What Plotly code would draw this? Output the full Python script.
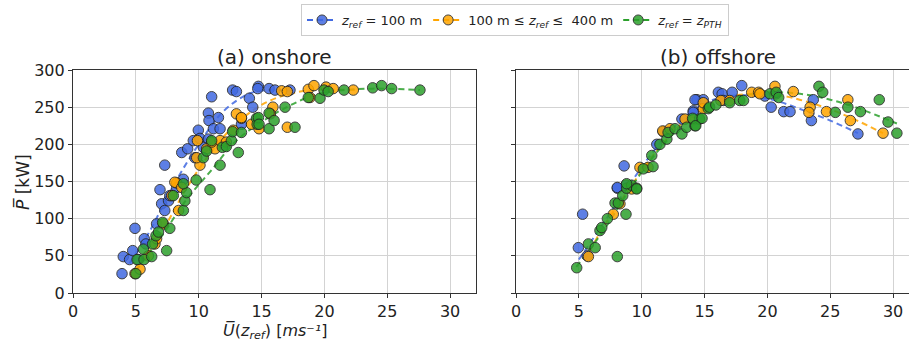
import plotly.graph_objects as go

# ---------------- data ----------------
# onshore (a)
on_blue_x = [3.9, 4.0, 4.5, 4.75, 4.93, 5.2, 5.67, 5.8, 6.65, 6.92, 7.05, 7.3, 7.6, 7.7, 8.25,
             7.3, 8.78, 8.65, 9.12, 9.57, 9.97, 10.1, 9.7, 10.77, 10.82, 11.03, 10.77, 11.17,
             11.7, 11.57, 10.37, 12.7, 13.0, 14.03, 14.3, 14.75, 14.7, 13.4, 15.6, 16.07, 17.26]
on_blue_y = [26, 49, 45, 57, 87, 45, 73, 66, 93, 139, 120, 111, 124, 131, 142,
             172, 153, 189, 194, 205, 219, 208, 182, 242, 232, 264, 207, 221,
             221, 236, 196, 273, 271, 262, 250, 278, 275, 227, 275, 273, 273]

on_orange_x = [4.93, 8.25, 7.85, 8.4, 7.18, 6.52, 6.65, 5.33, 5.99, 8.1, 8.65, 10.1, 9.84, 9.9,
               10.63, 11.3, 11.03, 11.7, 12.2, 12.75, 13.0, 13.4, 14.2, 13.4, 14.8, 15.9,
               15.7, 16.6, 17.05, 17.05, 18.72, 19.17, 20.13, 20.7, 22.3, 18.85]
on_orange_y = [26, 148, 131, 111, 93, 66, 73, 32, 50, 149, 142, 172, 182, 205,
               194, 194, 203, 205, 203, 219, 241, 235, 227, 236, 221, 250,
               241, 272, 271, 223, 274, 279, 277, 275, 273, 263]

on_green_x = [5.0, 5.1, 5.65, 5.6, 6.26, 6.33, 6.6, 6.8, 7.45, 7.7, 7.13, 7.98, 8.78, 8.9, 9.04,
              8.78, 9.8, 10.9, 10.37, 11.03, 10.63, 11.7, 11.88, 12.2, 12.6, 12.7, 13.15,
              13.4, 14.6, 14.65, 14.75, 14.8, 15.6, 15.6, 16.0, 16.87, 17.66, 18.72, 19.65,
              19.97, 20.3, 21.56, 23.84, 24.55, 25.35, 27.6]
on_green_y = [26, 45, 45, 59, 49, 66, 77, 82, 57, 87, 95, 131, 111, 124, 135,
              147, 152, 139, 182, 205, 191, 172, 196, 197, 205, 217, 189,
              216, 235, 227, 236, 227, 242, 221, 232, 250, 223, 263, 262,
              273, 271, 273, 276, 279, 275, 273]

on_blue_fit_x = [4.5, 6, 8, 10, 12, 14, 15.5, 17.5]
on_blue_fit_y = [40, 80, 145, 200, 245, 268, 273, 272]
on_orange_fit_x = [5, 7, 9, 11, 13, 15, 17, 19, 22.5]
on_orange_fit_y = [30, 80, 140, 190, 228, 253, 267, 273, 273]
on_green_fit_x = [5, 7, 9, 11, 13, 15, 17, 19, 21, 24, 27.6]
on_green_fit_y = [30, 75, 125, 165, 205, 230, 250, 265, 272, 275, 273]

# offshore (b)
off_blue_x = [5.3, 4.96, 5.67, 8.06, 8.75, 8.6, 8.06, 11.2, 11.72, 13.2, 14.1, 14.4, 14.9, 14.24,
              16.1, 16.4, 17.2, 17.96, 14.1, 20.3, 21.3, 21.8, 19.8, 23.5, 23.65, 27.2, 20.7, 16.5]
off_blue_y = [106, 61, 50, 141, 145, 171, 142, 200, 217, 234, 245, 260, 260, 260,
              270, 268, 270, 279, 243, 250, 244, 244, 265, 232, 260, 214, 268, 259]

off_orange_x = [5.76, 7.74, 8.27, 9.2, 9.86, 10.5, 11.67, 12.25, 13.45, 14.1, 14.9, 14.9, 16.3,
                17.0, 18.75, 19.3, 20.6, 22.06, 23.4, 23.3, 24.7, 26.4, 26.6, 29.2, 19.4]
off_orange_y = [49, 106, 120, 140, 169, 169, 218, 221, 234, 233, 248, 256, 259,
                259, 270, 270, 278, 271, 250, 243, 244, 260, 232, 215, 268]

off_green_x = [4.83, 5.76, 6.3, 8.06, 6.68, 6.82, 7.27, 7.88, 8.14, 8.75, 8.49, 8.8, 9.2, 9.6,
               8.8, 9.6, 10.13, 10.9, 10.8, 11.45, 12.0, 12.1, 12.65, 13.2, 13.58, 14.24, 14.6,
               15.3, 14.05, 14.3, 14.8, 15.4, 15.9, 17.0, 17.8, 18.1, 20.2, 20.7, 20.9, 24.1,
               24.4, 25.4, 26.4, 27.4, 28.9, 29.6, 30.3]
off_green_y = [34, 66, 61, 49, 84, 88, 100, 121, 121, 106, 131, 141, 145, 141,
               147, 140, 167, 170, 185, 200, 207, 216, 221, 214, 223, 225, 234,
               248, 235, 225, 235, 250, 253, 256, 259, 259, 268, 270, 263, 278,
               270, 243, 250, 244, 260, 230, 215]

off_blue_fit_x = [5, 7, 9, 11, 13, 15, 17, 19, 21, 23, 25, 27.2]
off_blue_fit_y = [45, 95, 145, 192, 230, 255, 265, 265, 257, 245, 232, 215]
off_orange_fit_x = [5.5, 7, 9, 11, 13, 15, 17, 19, 21, 23, 25, 27, 29.2]
off_orange_fit_y = [45, 90, 140, 187, 225, 250, 264, 268, 266, 258, 247, 233, 215]
off_green_fit_x = [4.8, 7, 9, 11, 13, 15, 17, 19, 21, 23, 25, 27, 29, 30.3]
off_green_fit_y = [35, 85, 138, 185, 222, 247, 261, 268, 270, 267, 260, 250, 237, 228]

series_names = ["<i>z<sub>ref</sub></i> = 100 m",
                "100 m ≤ <i>z<sub>ref</sub></i> ≤  400 m",
                "<i>z<sub>ref</sub></i> = <i>z<sub>PTH</sub></i>"]
colors = ["#4169E1", "#FFA500", "#2ca02c"]

x_ticks = [0, 5, 10, 15, 20, 25, 30]
y_ticks = [0, 50, 100, 150, 200, 250, 300]

# ---------------- figure ----------------
FONT = "DejaVu Sans"
DASH = "6px,4px"
fig = go.Figure()

panels = [
    ("x", "y", [(on_blue_x, on_blue_y), (on_orange_x, on_orange_y), (on_green_x, on_green_y)],
     [(on_blue_fit_x, on_blue_fit_y), (on_orange_fit_x, on_orange_fit_y), (on_green_fit_x, on_green_fit_y)]),
    ("x2", "y2", [(off_blue_x, off_blue_y), (off_orange_x, off_orange_y), (off_green_x, off_green_y)],
     [(off_blue_fit_x, off_blue_fit_y), (off_orange_fit_x, off_orange_fit_y), (off_green_fit_x, off_green_fit_y)]),
]

for xa, ya, scat, fits in panels:
    for i in range(3):
        fig.add_trace(go.Scatter(x=fits[i][0], y=fits[i][1], mode="lines", xaxis=xa, yaxis=ya,
                                 line=dict(color=colors[i], width=2, dash=DASH, shape="spline"),
                                 opacity=0.85, showlegend=False, hoverinfo="skip"))
    for i in range(3):
        fig.add_trace(go.Scatter(x=scat[i][0], y=scat[i][1], mode="markers", xaxis=xa, yaxis=ya,
                                 marker=dict(color=colors[i], size=10.5, opacity=0.85,
                                             line=dict(color="#222", width=1)),
                                 showlegend=False))

# legend entries
for i in range(3):
    fig.add_trace(go.Scatter(x=[None], y=[None], mode="lines+markers", name=series_names[i],
                             line=dict(color=colors[i], width=2, dash=DASH),
                             marker=dict(color=colors[i], size=10, opacity=0.85,
                                         line=dict(color="#222", width=1))))

W, H = 909, 342
axis_common = dict(showgrid=True, gridcolor="#d3d3d3", gridwidth=1, zeroline=False,
                   showline=True, linecolor="#333", linewidth=1.2, ticks="outside",
                   ticklen=4, tickcolor="#333", automargin=False,
                   tickfont=dict(family=FONT, size=16, color="#222"))

x1_range = [0, (476 - 73) / 12.57]
x2_range = [0, (909 - 516) / 12.57]

fig.update_layout(
    width=W, height=H, margin=dict(l=0, r=0, t=0, b=0, autoexpand=False),
    plot_bgcolor="white", paper_bgcolor="white",
    font=dict(family=FONT, color="#222"),
    xaxis=dict(domain=[73 / W, 476 / W], range=x1_range, tickvals=x_ticks, mirror=True,
               anchor="y", **axis_common),
    yaxis=dict(domain=[1 - 293 / H, 1 - 70 / H], range=[0, 300], tickvals=y_ticks, mirror=True,
               anchor="x", **axis_common),
    xaxis2=dict(domain=[516 / W, 1.0], range=x2_range, tickvals=x_ticks, mirror=True,
                anchor="y2", **axis_common),
    yaxis2=dict(domain=[1 - 293 / H, 1 - 70 / H], range=[0, 300], tickvals=y_ticks,
                showticklabels=False, mirror=False, anchor="x2", **axis_common),
    legend=dict(orientation="h", x=515 / W, xanchor="center", y=1 - 4 / H, yanchor="top",
                bordercolor="#cccccc", borderwidth=1, bgcolor="white",
                font=dict(family=FONT, size=13, color="#222"),
                tracegroupgap=0),
    annotations=[
        dict(text="(a) onshore", x=(73 + 476) / 2 / W, y=1 - 57 / H, xref="paper", yref="paper",
             showarrow=False, xanchor="center", yanchor="middle", font=dict(family=FONT, size=20)),
        dict(text="(b) offshore", x=(516 + 919) / 2 / W, y=1 - 57 / H, xref="paper", yref="paper",
             showarrow=False, xanchor="center", yanchor="middle", font=dict(family=FONT, size=20)),
        dict(text="<i>U̅</i>(<i>z<sub>ref</sub></i>) [<i>ms⁻¹</i>]",
             x=(73 + 476) / 2 / W, y=1 - 331 / H, xref="paper", yref="paper",
             showarrow=False, xanchor="center", yanchor="middle", font=dict(family=FONT, size=16)),
        dict(text="<i>P̅</i> [kW]", x=22 / W, y=1 - 182 / H, xref="paper", yref="paper",
             showarrow=False, xanchor="center", yanchor="middle", textangle=-90,
             font=dict(family=FONT, size=17)),
    ],
)

fig.write_html("out.html")
